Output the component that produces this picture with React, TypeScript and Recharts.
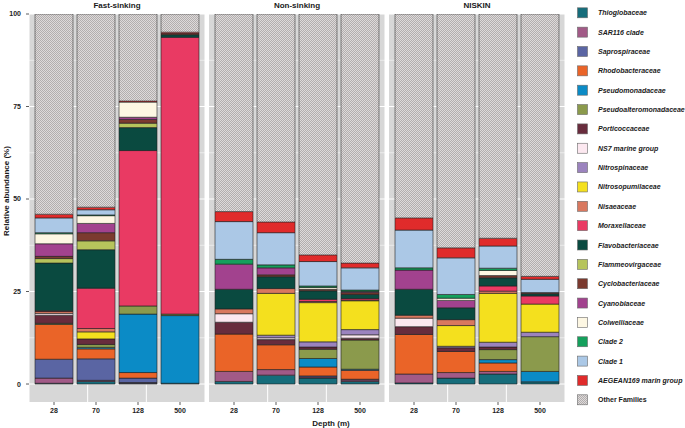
import React from 'react';
import { BarChart, Bar, XAxis, YAxis, CartesianGrid } from 'recharts';

// Samples: Fast-sinking 28,70,128,500 | Non-sinking 28,70,128,500 | NISKIN 28,70,128,500
const depths = ['28', '70', '128', '500'];
const depthIndex = [0, 1, 2, 3];
const panelTitles = ['Fast-sinking', 'Non-sinking', 'NISKIN'];
const yTicks = [0, 25, 50, 75, 100];
const yMinorTicks = [12.5, 37.5, 62.5, 87.5];

const thioglobaceae = [0.2, 0.7, 0.2, 0.2, 0.7, 2.4, 1.6, 0.7, 0.3, 1.6, 2.7, 0.6];
const sar116 = [1.4, 0.3, 0.2, 0, 2.7, 1.5, 0.3, 0.4, 2.4, 1.5, 0.7, 0];
const saprospiraceae = [5.1, 5.8, 1.2, 0, 0, 0, 0.3, 0.2, 0, 0, 0, 0];
const rhodobacteraceae = [9.4, 2.7, 1.5, 0, 10.1, 6.7, 2.4, 2.4, 10.7, 5.7, 2.3, 0];
const pseudomonadaceae = [0, 0.4, 15.8, 18.3, 0, 0, 2.3, 0.3, 0, 0, 0.9, 2.8];
const pseudoalteromonadaceae = [0.3, 0.8, 2.2, 0.4, 0, 0, 2.5, 7.9, 0, 0, 2.7, 9.4];
const porticoccaceae = [2.2, 1.5, 0, 0, 3.2, 1.4, 0.6, 0.5, 2.1, 1.0, 0.7, 0];
const ns7 = [0.5, 0, 0, 0, 2.3, 0.5, 0, 0.9, 2.3, 0, 0, 0];
const nitrospinaceae = [0, 0, 0, 0, 0, 0.7, 1.4, 1.4, 0, 0.4, 1.3, 1.2];
const nitrosopumilaceae = [0, 1.9, 0, 0, 0, 11.3, 10.6, 7.8, 0, 5.6, 13.2, 7.6];
const nisaeaceae = [0.5, 0.9, 0, 0, 1.3, 1.3, 0.3, 0.2, 0.8, 1.6, 0.6, 0];
const moraxellaceae = [0.2, 10.9, 42.0, 74.8, 0, 0, 0.6, 0.4, 0, 0, 1.4, 2.2];
const flavobacteriaceae = [12.9, 10.4, 6.2, 0.7, 5.3, 3.2, 2.3, 1.1, 7.0, 3.2, 2.2, 0.6];
const flammeovirgaceae = [1.2, 2.4, 1.2, 0, 0, 0, 0, 0, 0, 0, 0, 0];
const cyclobacteriaceae = [0.6, 2.2, 1.0, 0.3, 0, 0.5, 0.4, 0.5, 0, 0, 0.6, 0.3];
const cyanobiaceae = [3.4, 2.5, 0.6, 0, 6.8, 1.9, 0, 0.3, 5.2, 2.0, 0, 0];
const colwelliaceae = [2.7, 2.1, 4.1, 0, 0, 0, 0.5, 0, 0, 0.6, 1.4, 0];
const clade2 = [0.3, 0.2, 0, 0, 1.3, 0.8, 0.4, 0.4, 0.6, 1.0, 0.6, 0];
const clade1 = [4.0, 1.4, 0, 0, 10.2, 8.7, 6.6, 6.0, 10.2, 9.9, 6.0, 3.6];
const aegean169 = [1.0, 0.7, 0.3, 0.4, 2.7, 2.9, 1.8, 1.3, 3.3, 2.7, 2.1, 0.8];

const familyNames = [
  'Thioglobaceae', 'SAR116 clade', 'Saprospiraceae', 'Rhodobacteraceae', 'Pseudomonadaceae',
  'Pseudoalteromonadaceae', 'Porticoccaceae', 'NS7 marine group', 'Nitrospinaceae', 'Nitrosopumilaceae',
  'Nisaeaceae', 'Moraxellaceae', 'Flavobacteriaceae', 'Flammeovirgaceae', 'Cyclobacteriaceae',
  'Cyanobiaceae', 'Colwelliaceae', 'Clade 2', 'Clade 1', 'AEGEAN169 marin group',
];
const familyValues = [
  thioglobaceae, sar116, saprospiraceae, rhodobacteraceae, pseudomonadaceae,
  pseudoalteromonadaceae, porticoccaceae, ns7, nitrospinaceae, nitrosopumilaceae,
  nisaeaceae, moraxellaceae, flavobacteriaceae, flammeovirgaceae, cyclobacteriaceae,
  cyanobiaceae, colwelliaceae, clade2, clade1, aegean169,
];
const familyColors = [
  '#166d7b', '#a25a87', '#5a65a3', '#ea6428', '#0b8bc6',
  '#8b9a4c', '#682c3d', '#fce8f0', '#9b83be', '#f4e01e',
  '#d9785f', '#e93a63', '#0a4a40', '#b6c45c', '#7b3a2f',
  '#a2428e', '#fdf7e3', '#14a05c', '#abc8e6', '#e02b2b',
];
const otherLabel = 'Other Families';

const FONT = '"Liberation Sans", Arial, Helvetica, sans-serif';
const PANEL_BG = '#d7d7d7';
// band padding of the category axis (px) and the matching index-domain for the grid axis
const X_PAD = 4;
const BAND = 42;
const GRID_DOMAIN: [number, number] = [-0.5 - X_PAD / BAND, 3.5 + X_PAD / BAND];

function panelRows(p: number) {
  return depths.map((d, j) => {
    const idx = p * 4 + j;
    const row: Record<string, any> = { depth: d };
    let sum = 0;
    familyNames.forEach((n, k) => {
      const v = familyValues[k][idx];
      row[n] = v;
      sum += v;
    });
    row[otherLabel] = Math.max(0, 100 - sum);
    return row;
  });
}

function HatchDefs({ id }: { id: string }) {
  return (
    <defs>
      <pattern id={id} width="2" height="2" patternUnits="userSpaceOnUse">
        <rect x="0" y="0" width="2" height="2" fill="#dedada" />
        <rect x="0" y="0" width="1" height="1" fill="#b2aeae" />
        <rect x="1" y="1" width="1" height="1" fill="#b2aeae" />
      </pattern>
    </defs>
  );
}

function Panel({ p, withAxis }: { p: number; withAxis: boolean }) {
  const rows = panelRows(p);
  const hatchId = `hatch${p}`;
  const width = withAxis ? 205 : 176;
  const tickStyle = { fontFamily: FONT, fontSize: 7, fontWeight: 700, fill: '#222' };
  return (
    <BarChart
      width={width}
      height={428}
      data={rows}
      margin={{ top: 14, right: 0, bottom: 0, left: 0 }}
      barSize={38}
    >
      <HatchDefs id={hatchId} />
      <CartesianGrid
        horizontalValues={yTicks}
        vertical={false}
        stroke="#ffffff"
        strokeWidth={1}
        fill={PANEL_BG}
        fillOpacity={1}
      />
      <CartesianGrid horizontalValues={yMinorTicks} vertical={false} stroke="#ffffff" strokeWidth={0.5} />
      <CartesianGrid
        xAxisId="grid"
        horizontal={false}
        verticalValues={depthIndex}
        stroke="#ffffff"
        strokeWidth={1}
      />
      <XAxis
        dataKey="depth"
        type="category"
        interval={0}
        padding={{ left: X_PAD, right: X_PAD }}
        axisLine={false}
        tickLine={{ stroke: '#333', strokeWidth: 0.8 }}
        tickSize={3}
        tickMargin={3}
        height={26}
        tick={tickStyle}
      />
      <XAxis xAxisId="grid" type="number" domain={GRID_DOMAIN} allowDataOverflow hide />
      {withAxis ? (
        <YAxis
          type="number"
          domain={[-4.86, 100]}
          allowDataOverflow
          ticks={yTicks}
          width={29}
          axisLine={false}
          tickLine={{ stroke: '#333', strokeWidth: 0.8 }}
          tickSize={3}
          tickMargin={5}
          tick={tickStyle}
        />
      ) : (
        <YAxis type="number" domain={[-4.86, 100]} allowDataOverflow hide />
      )}
      {familyNames.map((n, k) => (
        <Bar
          key={n}
          dataKey={n}
          stackId="s"
          fill={familyColors[k]}
          stroke="#1e1e1e"
          strokeWidth={0.6}
          isAnimationActive={false}
        />
      ))}
      <Bar
        dataKey={otherLabel}
        stackId="s"
        fill={`url(#${hatchId})`}
        stroke="#3a3a3a"
        strokeWidth={0.6}
        isAnimationActive={false}
      />
    </BarChart>
  );
}

export default function App() {
  const panelLefts = [0, 209, 389];
  const panelCenters = [117, 297, 477];
  const legendItems = [...familyNames.map((n, k) => ({ name: n, fill: familyColors[k], italic: true })),
    { name: otherLabel, fill: 'url(#hatchLegend)', italic: false }];
  return (
    <div style={{ position: 'absolute', left: 0, top: 0, width: 685, height: 428, background: '#fff', overflow: 'hidden' }}>
      {panelTitles.map((t, p) => (
        <div key={t} style={{ position: 'absolute', left: panelLefts[p], top: 0 }}>
          <Panel p={p} withAxis={p === 0} />
        </div>
      ))}
      <svg
        width={685}
        height={428}
        style={{ position: 'absolute', left: 0, top: 0, pointerEvents: 'none' }}
      >
        <HatchDefs id="hatchLegend" />
        {panelTitles.map((t, p) => (
          <text key={t} x={panelCenters[p]} y={8} textAnchor="middle" fontFamily={FONT} fontSize={8} fontWeight={700} fill="#1a1a1a">
            {t}
          </text>
        ))}
        <text
          transform="translate(8.5, 191) rotate(-90)"
          textAnchor="middle"
          fontFamily={FONT}
          fontSize={8}
          fontWeight={700}
          fill="#1a1a1a"
        >
          Relative abundance (%)
        </text>
        <text x={331} y={426} textAnchor="middle" fontFamily={FONT} fontSize={8} fontWeight={700} fill="#1a1a1a">
          Depth (m)
        </text>
        {legendItems.map((it, i) => {
          const cy = 12.8 + i * 19.35;
          return (
            <g key={it.name}>
              <rect x={577.5} y={cy - 5} width={10} height={10} fill={it.fill} stroke="#6a6a6a" strokeWidth={0.6} />
              <text
                x={598}
                y={cy + 2.5}
                fontFamily={FONT}
                fontSize={7}
                fontWeight={700}
                fontStyle={it.italic ? 'italic' : 'normal'}
                fill="#1a1a1a"
              >
                {it.name}
              </text>
            </g>
          );
        })}
      </svg>
    </div>
  );
}
